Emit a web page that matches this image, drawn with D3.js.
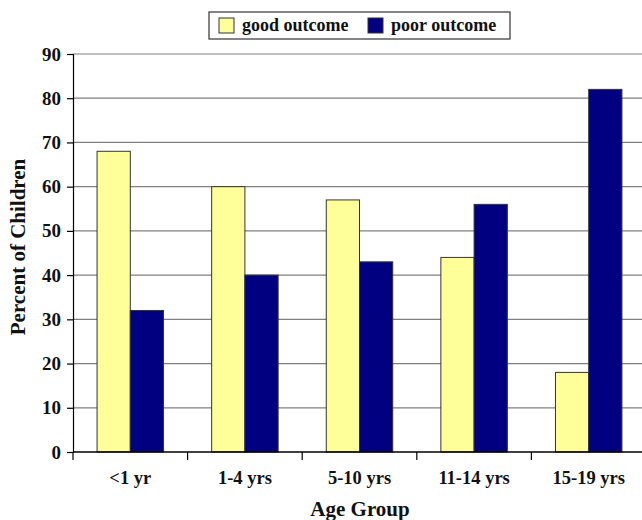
<!DOCTYPE html>
<html>
<head>
<meta charset="utf-8">
<script src="https://cdn.jsdelivr.net/npm/d3@7"></script>
<style>
body { margin: 0; background: #fff; }
svg text { font-family: "Liberation Serif", "Times New Roman", serif !important; font-weight: bold; }
</style>
</head>
<body>
<svg width="642" height="520"></svg>
<script>
var categories = ["<1 yr", "1-4 yrs", "5-10 yrs", "11-14 yrs", "15-19 yrs"];
var seriesNames = ["good outcome", "poor outcome"];
var goodValues = [68, 60, 57, 44, 18];
var poorValues = [32, 40, 43, 56, 82];
var yTicks = [0, 10, 20, 30, 40, 50, 60, 70, 80, 90];
var colors = ["#ffff99", "#000080"];

var svg = d3.select("svg");
var plotLeft = 73, plotRight = 646, plotTop = 54, plotBottom = 452;

var x = d3.scaleBand().domain(categories).range([plotLeft, plotRight]).paddingInner(0.42).paddingOuter(0.21);
var xSub = d3.scaleBand().domain(seriesNames).range([0, x.bandwidth()]);
var y = d3.scaleLinear().domain([0, 90]).range([plotBottom, plotTop]);

// gridlines
svg.append("g").selectAll("line").data(yTicks.slice(1)).enter().append("line")
    .attr("x1", plotLeft).attr("x2", 642)
    .attr("y1", function (d) { return y(d); }).attr("y2", function (d) { return y(d); })
    .style("stroke", "#808080").style("stroke-width", 1.2);

var rows = categories.map(function (c, i) {
    return [{cat: c, s: 0, v: goodValues[i]}, {cat: c, s: 1, v: poorValues[i]}];
});

svg.append("g").selectAll("g").data(rows).enter().append("g")
    .selectAll("rect").data(function (d) { return d; }).enter().append("rect")
    .attr("x", function (d) { return x(d.cat) + xSub(seriesNames[d.s]); })
    .attr("y", function (d) { return y(d.v); })
    .attr("width", xSub.bandwidth())
    .attr("height", function (d) { return y(0) - y(d.v); })
    .style("fill", function (d) { return colors[d.s]; })
    .style("stroke", "#333").style("stroke-width", 1);

// y axis
var yAxis = d3.axisLeft(y).tickValues(yTicks).tickSize(6).tickPadding(6);
var gy = svg.append("g").attr("transform", "translate(" + plotLeft + ",0)").call(yAxis)
    .attr("font-family", null);
gy.select(".domain").style("stroke", "#000").style("stroke-width", 1.2);
gy.selectAll(".tick line").style("stroke", "#000").style("stroke-width", 1.2);
gy.selectAll(".tick text").style("font-size", "19px").style("fill", "#111");

// x axis
var gx = svg.append("g").attr("transform", "translate(0," + plotBottom + ")");
gx.append("line").attr("x1", plotLeft).attr("x2", 642).attr("y1", 0).attr("y2", 0)
    .style("stroke", "#000").style("stroke-width", 1.5);
var step = x.step();
gx.selectAll("line.tk").data(categories).enter().append("line").attr("class", "tk")
    .attr("x1", function (d) { return x(d) - (step - x.bandwidth()) / 2; })
    .attr("x2", function (d) { return x(d) - (step - x.bandwidth()) / 2; })
    .attr("y1", 0).attr("y2", 8)
    .style("stroke", "#000").style("stroke-width", 1.2);
gx.selectAll("text").data(categories).enter().append("text")
    .attr("x", function (d) { return x(d) + x.bandwidth() / 2; })
    .attr("y", 32)
    .attr("text-anchor", "middle")
    .style("font-size", "18.5px").style("fill", "#111")
    .text(function (d) { return d; });

// axis titles
svg.append("text").attr("x", 360).attr("y", 516).attr("text-anchor", "middle")
    .style("font-size", "21px").style("fill", "#111").text("Age Group");
svg.append("text").attr("transform", "translate(25,247) rotate(-90)").attr("text-anchor", "middle")
    .style("font-size", "21px").style("fill", "#111").text("Percent of Children");

// legend
var lg = svg.append("g");
lg.append("rect").attr("x", 209).attr("y", 12).attr("width", 301).attr("height", 27)
    .style("fill", "#fff").style("stroke", "#333").style("stroke-width", 1.2);
var legendX = [219, 368];
seriesNames.forEach(function (s, i) {
    lg.append("rect").attr("x", legendX[i]).attr("y", 18).attr("width", 15).attr("height", 15)
        .style("fill", colors[i]).style("stroke", "#333").style("stroke-width", 1);
    lg.append("text").attr("x", legendX[i] + 23).attr("y", 31)
        .style("font-size", "18px").style("fill", "#111").text(s);
});
</script>
</body>
</html>
